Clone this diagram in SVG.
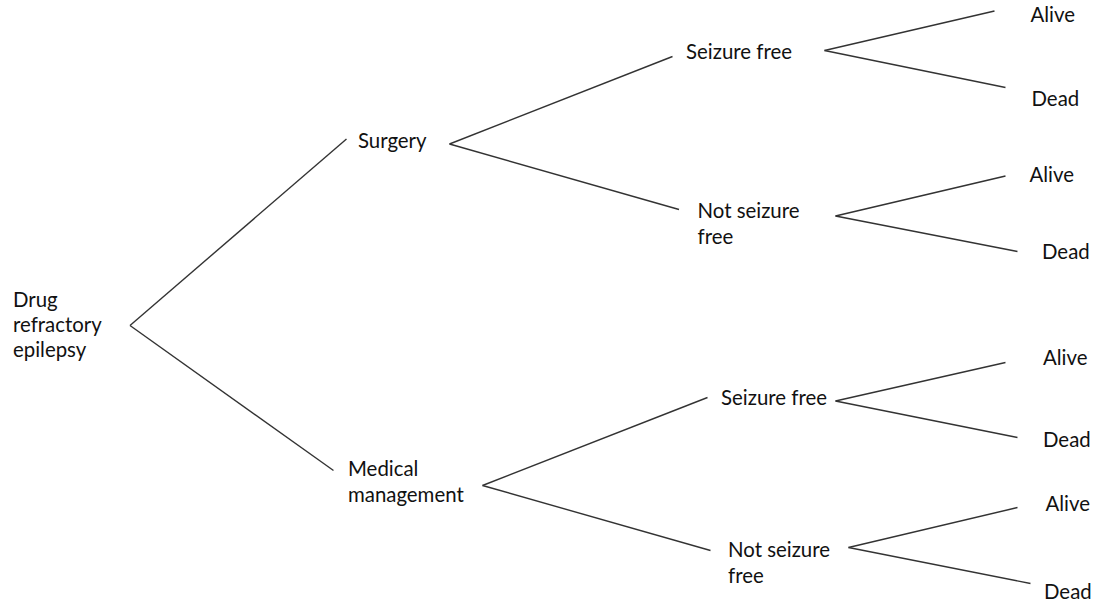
<svg xmlns="http://www.w3.org/2000/svg" width="1098" height="602" viewBox="0 0 1098 602">
<style>
text{font-family:Lato,"Liberation Sans",sans-serif;font-size:20.4px;fill:#111}
line{stroke:#333;stroke-width:1.4;fill:none}
</style>
<rect width="1098" height="602" fill="#fff"/>
<g id="connectors">
<line x1="130" y1="325.5" x2="346.5" y2="139"/>
<line x1="130" y1="325.5" x2="333.5" y2="470.5"/>
<line x1="449.5" y1="144" x2="672.5" y2="56.5"/>
<line x1="449.5" y1="144" x2="679" y2="209.5"/>
<line x1="482.5" y1="485.5" x2="707.5" y2="397.5"/>
<line x1="482.5" y1="485.5" x2="710.5" y2="550.5"/>
<line x1="824.5" y1="50.5" x2="994.5" y2="11"/>
<line x1="824.5" y1="50.5" x2="1005.5" y2="87.5"/>
<line x1="835.5" y1="216" x2="1005.5" y2="176"/>
<line x1="835.5" y1="216" x2="1017.5" y2="251.5"/>
<line x1="835.5" y1="401" x2="1005.5" y2="362.5"/>
<line x1="835.5" y1="401" x2="1017.5" y2="437.5"/>
<line x1="848.5" y1="547.5" x2="1017.5" y2="507.5"/>
<line x1="848.5" y1="547.5" x2="1030.5" y2="583.5"/>
</g>
<g id="root"><text x="13" y="307">Drug</text><text x="13" y="332">refractory</text><text x="13" y="357">epilepsy</text></g>
<g id="surgery"><text x="358" y="148">Surgery</text></g>
<g id="medical"><text x="348" y="476">Medical</text><text x="348" y="501.5">management</text></g>
<g id="s-sf"><text x="686" y="59">Seizure free</text></g>
<g id="s-nsf"><text x="697.5" y="218">Not seizure</text><text x="697.5" y="243.5">free</text></g>
<g id="m-sf"><text x="721" y="405">Seizure free</text></g>
<g id="m-nsf"><text x="728" y="556.5">Not seizure</text><text x="728" y="582.5">free</text></g>
<g id="s-sf-alive"><text x="1030.5" y="21.5">Alive</text></g>
<g id="s-sf-dead"><text x="1031.5" y="106">Dead</text></g>
<g id="s-nsf-alive"><text x="1029.5" y="182">Alive</text></g>
<g id="s-nsf-dead"><text x="1042" y="259">Dead</text></g>
<g id="m-sf-alive"><text x="1043" y="365">Alive</text></g>
<g id="m-sf-dead"><text x="1043" y="447">Dead</text></g>
<g id="m-nsf-alive"><text x="1045.5" y="510.5">Alive</text></g>
<g id="m-nsf-dead"><text x="1044" y="599">Dead</text></g>
</svg>
